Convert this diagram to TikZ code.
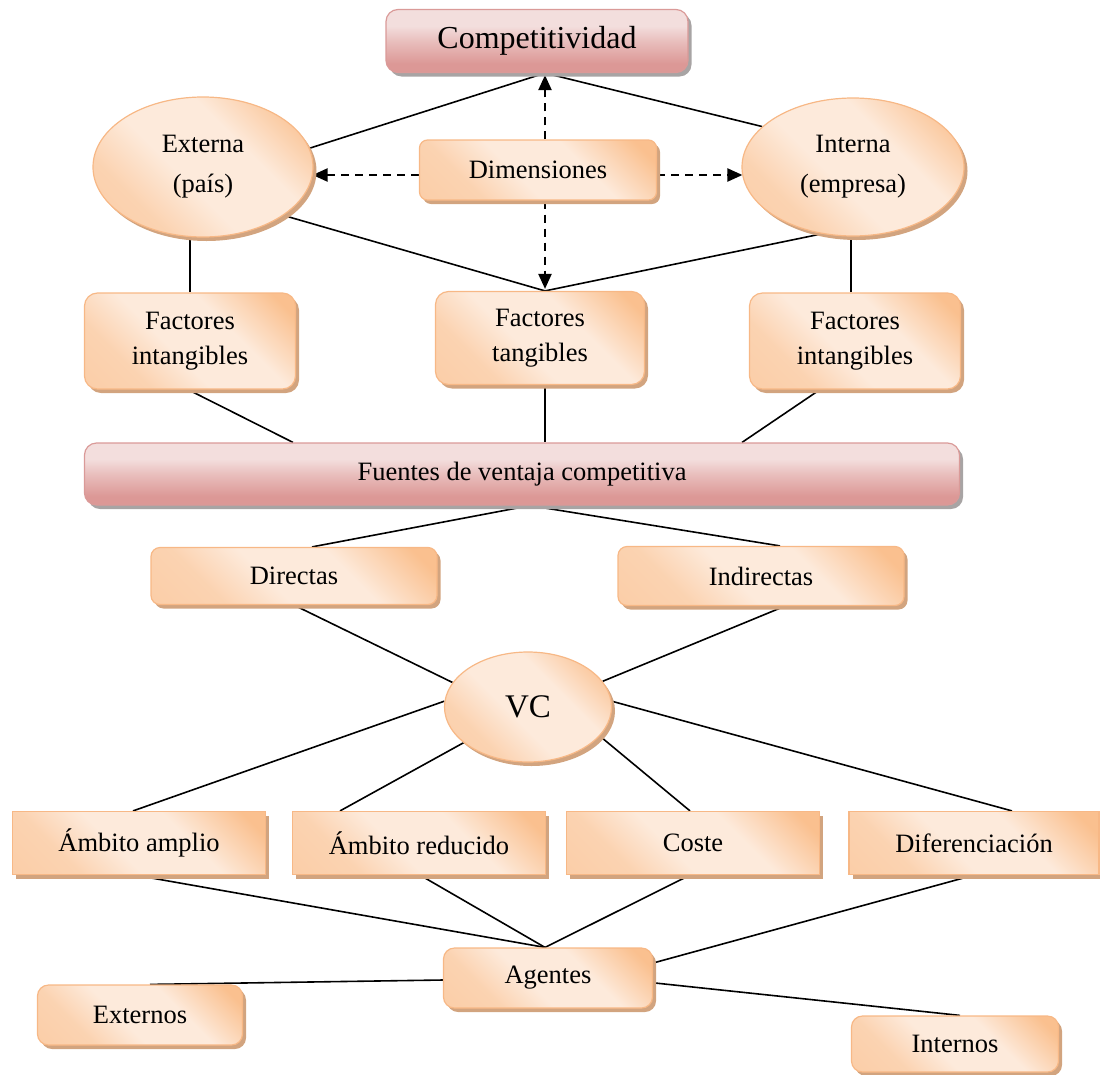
\documentclass[tikz,border=0pt]{standalone}
\usepackage{fontspec}
\setmainfont{Liberation Serif}
\usetikzlibrary{shapes.geometric,shadows,calc,backgrounds,arrows.meta}

\definecolor{peachdark}{HTML}{FAC08F}
\definecolor{peachlight}{HTML}{FDEADB}
\definecolor{peachedge}{HTML}{F7B886}
\definecolor{peachshadow}{HTML}{D2A47F}
\definecolor{rosedark}{HTML}{DC9896}
\definecolor{roselight}{HTML}{F3DEDD}
\definecolor{roseedge}{HTML}{DA9A98}
\definecolor{roseshadow}{HTML}{A8A4A4}

\pgfdeclarehorizontalshading{peachband}{100bp}{%
  color(0bp)=(peachdark!80!peachlight); color(30bp)=(peachdark!55!peachlight);
  color(44bp)=(peachlight); color(62bp)=(peachlight);
  color(80bp)=(peachdark); color(100bp)=(peachdark)}
\pgfdeclareverticalshading{roseband}{100bp}{%
  color(0bp)=(rosedark); color(32bp)=(rosedark);
  color(50bp)=(roselight!55!rosedark); color(62bp)=(roselight);
  color(100bp)=(roselight)}

\tikzset{
  base/.style={align=center, inner sep=2pt, line width=1.2pt,
    font=\fontsize{26.5}{35}\selectfont},
  peach/.style={base, draw=peachedge, shading=peachband, shading angle=45,
    drop shadow={shadow xshift=3.5pt, shadow yshift=-4pt, fill=peachshadow, opacity=1}},
  rose/.style={base, draw=roseedge, shading=roseband,
    drop shadow={shadow xshift=3.5pt, shadow yshift=-4pt, fill=roseshadow, opacity=1}},
  rbox/.style={peach, rectangle, rounded corners=13pt},
  sbox/.style={peach, rectangle},
  oval/.style={peach, ellipse, inner sep=0pt},
  link/.style={line width=1.6pt, black},
  dlink/.style={line width=2.2pt, black, dash pattern=on 8pt off 6pt,
    -{Triangle[length=15pt,width=13pt]}}
}

\begin{document}
\begin{tikzpicture}[x=1pt,y=-1pt]
\useasboundingbox (0,0) rectangle (1100,1074);

% top level
\node[rose, rectangle, rounded corners=12pt, minimum width=302pt, minimum height=63pt,
  font=\fontsize{32}{38}\selectfont] (comp) at (537,41) {Competitividad};

% dimensions
\node[oval, minimum width=220pt, minimum height=140pt, font=\fontsize{26.5}{40}\selectfont] (ext) at (203,167) {Externa\\(país)};
\node[oval, minimum width=222pt, minimum height=138pt, font=\fontsize{26.5}{40}\selectfont] (int) at (853,167) {Interna\\(empresa)};
\node[rbox, rounded corners=8pt, minimum width=237pt, minimum height=60pt] (dim) at (538,170) {Dimensiones};

% factors
\node[rbox, minimum width=211pt, minimum height=96pt] (fil) at (190,341) {Factores\\intangibles};
\node[rbox, minimum width=209pt, minimum height=93pt] (ftan) at (540,338) {Factores\\tangibles};
\node[rbox, minimum width=211pt, minimum height=96pt] (fir) at (855,341) {Factores\\intangibles};

% sources
\node[rose, rectangle, rounded corners=12pt, minimum width=875pt, minimum height=62pt] (fue) at (522,474) {Fuentes de ventaja competitiva};
\node[rbox, rounded corners=9pt, minimum width=286pt, minimum height=57pt] (dir) at (294,576) {Directas};
\node[rbox, rounded corners=9pt, minimum width=286pt, minimum height=59pt] (ind) at (761,576) {Indirectas};

\node[oval, minimum width=167pt, minimum height=110pt, font=\fontsize{33}{38}\selectfont] (vc) at (528,707) {VC};

% strategies
\node[sbox, minimum width=253pt, minimum height=63pt] (aa) at (139,843) {Ámbito amplio};
\node[sbox, minimum width=253pt, minimum height=63pt] (ar) at (419,843) {Ámbito reducido};
\node[sbox, minimum width=253pt, minimum height=63pt] (co) at (693,843) {Coste};
\node[sbox, minimum width=250pt, minimum height=63pt] (di) at (974,843) {Diferenciación};

% agents
\node[rbox, rounded corners=11pt, minimum width=209pt, minimum height=60pt] (ag) at (548,978) {Agentes};
\node[rbox, rounded corners=11pt, minimum width=205pt, minimum height=60pt] (ex) at (140,1015) {Externos};
\node[rbox, rounded corners=11pt, minimum width=207pt, minimum height=56pt] (inn) at (955,1044) {Internos};

\begin{pgfonlayer}{background}
  % dimensions of competitiveness
  \draw[link] ($(comp.south)+(8,0)$) -- (ext.10);
  \draw[link] ($(comp.south)+(8,0)$) -- (int.156);
  \draw[dlink] ($(dim.north)+(7,0)$) -- ($(comp.south)+(8,2)$);
  \draw[dlink] ($(dim.west)+(0,5)$) -- ($(ext.east)+(-1,8)$);
  \draw[dlink] ($(dim.east)+(0,5)$) -- ($(int.west)+(1,8)$);
  \draw[dlink] ($(dim.south)+(7,0)$) -- ($(ftan.north)+(5,-2)$);
  \draw[link] (ext.-31) -- ($(ftan.north)+(5,0)$);
  \draw[link] (int.245) -- ($(ftan.north)+(5,0)$);
  \draw[link] (fil.north) -- ($(fil.north |- ext.south)+(0,-3)$);
  \draw[link] ($(fir.north)+(-4,0)$) -- ($(fir.north |- int.south)+(-4,-3)$);
  % factors to sources
  \draw[link] ($(fil.south)+(-2,0)$) -- ($(fue.north)+(-229,0)$);
  \draw[link] ($(ftan.south)+(5,0)$) -- ($(fue.north)+(23,0)$);
  \draw[link] ($(fir.south)+(-35,0)$) -- ($(fue.north)+(220,0)$);
  \draw[link] ($(fue.south)+(8,0)$) -- ($(dir.north)+(18,0)$);
  \draw[link] ($(fue.south)+(8,0)$) -- ($(ind.north)+(19,0)$);
  % to VC
  \draw[link] (dir.south) -- (vc.162);
  \draw[link] ($(ind.south)+(24,0)$) -- (vc.19);
  \draw[link] (vc.176) -- ($(aa.north)+(-6,0)$);
  \draw[link] (vc.209) -- ($(ar.north)+(-79,0)$);
  \draw[link] (vc.-22) -- ($(co.north)+(-3,0)$);
  \draw[link] (vc.4) -- ($(di.north)+(38,0)$);
  % to agents
  \draw[link] ($(aa.south)+(-4,0)$) -- ($(ag.north)+(-3,0)$);
  \draw[link] ($(ar.south)+(1,0)$) -- ($(ag.north)+(-3,0)$);
  \draw[link] ($(co.south)+(-3,0)$) -- ($(ag.north)+(-3,0)$);
  \draw[link] (di.south) -- ($(ag.east)+(0,-15)$);
  \draw[link] ($(ag.west)+(0,2)$) -- ($(ex.north)+(10,0)$);
  \draw[link] ($(ag.east)+(2,5)$) -- ($(inn.north)+(5,0)$);
\end{pgfonlayer}
\end{tikzpicture}
\end{document}
